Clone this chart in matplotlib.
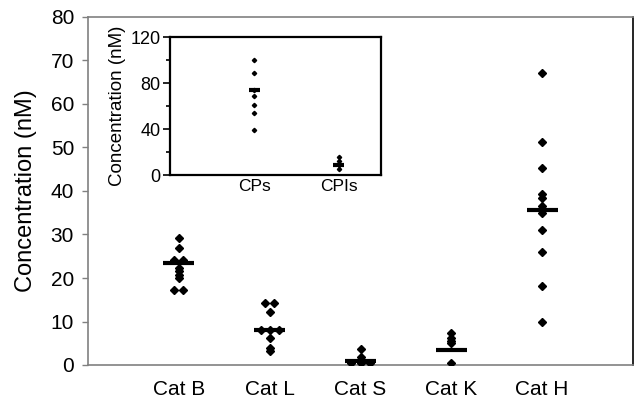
#!/usr/bin/env python3
# plot.py - dot plot of cathepsin concentrations, with inset for CPs vs CPIs.
import matplotlib
matplotlib.use("Agg")
import matplotlib.pyplot as plt
from matplotlib.ticker import MultipleLocator

plt.rcParams["font.family"] = ["Liberation Sans", "DejaVu Sans"]

# main panel data (nM)
categories = ["Cat B", "Cat L", "Cat S", "Cat K", "Cat H"]
cat_b = [29.1, 27.0, 24.1, 24.1, 22.4, 21.5, 20.7, 19.9, 17.2, 17.2]
cat_l = [14.3, 14.3, 12.1, 8.0, 8.0, 8.0, 6.1, 4.0, 3.3]
cat_s = [3.6, 1.9, 1.0, 0.4, 0.4, 0.4]
cat_k = [7.4, 6.1, 5.5, 5.0, 0.5]
cat_h = [67.2, 51.2, 45.2, 39.2, 38.5, 36.6, 34.9, 31.0, 26.0, 18.2, 10.0]
medians = [23.4, 8.0, 1.0, 3.4, 35.6]

# inset data (nM)
inset_groups = ["CPs", "CPIs"]
cps = [100, 89, 73.5, 69, 61, 54, 39]
cpis = [16, 12.5, 9, 5.2]
inset_medians = [73.5, 9]


def dodge(vals, step):
    """spread repeated values side by side around the category centre"""
    offs = []
    for i, v in enumerate(vals):
        n = vals.count(v)
        k = vals[:i].count(v)
        offs.append((k - (n - 1) / 2) * step)
    return offs


fig = plt.figure(figsize=(6.34, 3.99), dpi=100)
ax = fig.add_axes([88 / 634, 34 / 399, 545 / 634, 348 / 399])

for i, vals in enumerate([cat_b, cat_l, cat_s, cat_k, cat_h]):
    xc = i + 1
    xs = [xc + o for o in dodge(vals, 0.1)]
    ax.plot(xs, vals, ls="none", marker="D", ms=3.9, color="black", zorder=3)
    ax.hlines(medians[i], xc - 0.17, xc + 0.17, color="black", lw=3, zorder=4)

ax.set_xlim(0, 6)
ax.set_ylim(0, 80)
ax.yaxis.set_major_locator(MultipleLocator(10))
ax.set_xticks(range(1, 6))
ax.set_xticklabels(categories)
ax.tick_params(axis="x", length=0, pad=11, labelsize=15)
ax.tick_params(axis="y", length=4, width=1, color="#808080", pad=6, labelsize=15)
ax.set_ylabel("Concentration (nM)", fontsize=17, labelpad=10)
for s in ["left", "top", "bottom"]:
    ax.spines[s].set_color("#808080")
    ax.spines[s].set_linewidth(1.2)
ax.spines["right"].set_color("black")
ax.spines["right"].set_linewidth(1.2)

# inset
ins = fig.add_axes([170 / 634, 224 / 399, 211 / 634, 138 / 399])
for i, vals in enumerate([cps, cpis]):
    xc = i + 1
    ins.plot([xc] * len(vals), vals, ls="none", marker="D", ms=2.2,
             color="black", zorder=3)
    ins.hlines(inset_medians[i], xc - 0.065, xc + 0.065, color="black",
               lw=3, zorder=4)

ins.set_xlim(0, 2.5)
ins.set_ylim(0, 120)
ins.yaxis.set_major_locator(MultipleLocator(40))
ins.yaxis.set_minor_locator(MultipleLocator(20))
ins.set_xticks([1, 2])
ins.set_xticklabels(inset_groups)
ins.tick_params(axis="x", length=0, pad=3, labelsize=12.5)
ins.tick_params(axis="y", which="major", length=5, width=1.2, pad=2,
                labelsize=13)
ins.tick_params(axis="y", which="minor", length=3, width=1.2)
ins.set_ylabel("Concentration (nM)", fontsize=13.5, labelpad=3)
for s in ins.spines.values():
    s.set_color("black")
    s.set_linewidth(1.6)

fig.savefig("out.png", dpi=100)
